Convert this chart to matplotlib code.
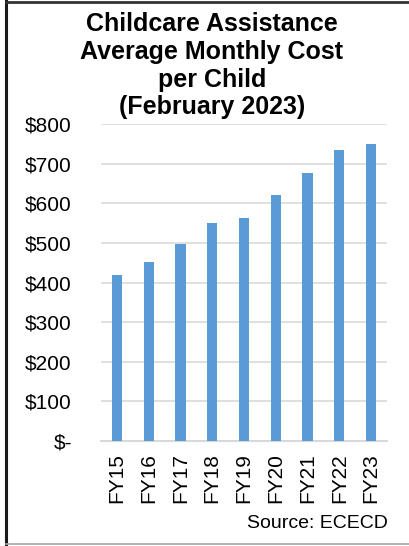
import matplotlib
matplotlib.use("Agg")
import matplotlib.pyplot as plt
from matplotlib.lines import Line2D

plt.rcParams["font.family"] = ["Liberation Sans", "DejaVu Sans"]

# data
years = ["FY15", "FY16", "FY17", "FY18", "FY19", "FY20", "FY21", "FY22", "FY23"]
avg_cost = [418, 452, 497, 549, 562, 621, 676, 734, 750]
y_ticks = [0, 100, 200, 300, 400, 500, 600, 700, 800]
y_labels = ["$-", "$100", "$200", "$300", "$400", "$500", "$600", "$700", "$800"]

W, H = 410, 546
fig = plt.figure(figsize=(W / 100, H / 100), dpi=100)
ax = fig.add_axes([101 / W, 1 - 441 / H, 286 / W, (441 - 124) / H])

x = range(len(years))
ax.bar(x, avg_cost, width=0.32, color="#5B9BD5", zorder=3)

ax.set_xlim(-0.5, len(years) - 0.5)
ax.set_ylim(0, 800)
ax.set_yticks(y_ticks)
ax.set_yticklabels(y_labels, fontsize=15)
ax.set_xticks(list(x))
ax.set_xticklabels(years, rotation=90, fontsize=15)
ax.tick_params(axis="both", length=0)
ax.tick_params(axis="y", pad=21)
ax.tick_params(axis="x", pad=9)

ax.grid(axis="y", color="#D9D9D9", linewidth=1.2, zorder=0)
for side in ["top", "right", "left"]:
    ax.spines[side].set_visible(False)
ax.spines["bottom"].set_color("#D9D9D9")
ax.spines["bottom"].set_linewidth(1.5)

fig.text(212 / W, 1 - 12 / H,
         "Childcare Assistance\nAverage Monthly Cost\nper Child\n(February 2023)",
         ha="center", va="top", fontsize=18, fontweight="bold",
         linespacing=1.2, multialignment="center")

fig.text(388 / W, 1 - 528 / H, "Source: ECECD", ha="right", va="baseline",
         fontsize=14)

# frame around the picture (right side is cut off in the original)
fig.add_artist(Line2D([6.5 / W, 6.5 / W], [0, 1], color="#1a1a1a", linewidth=2.2,
                      transform=fig.transFigure))
fig.add_artist(Line2D([6.5 / W, 1], [1 - 2 / H, 1 - 2 / H], color="#333333",
                      linewidth=2.0, transform=fig.transFigure))
fig.add_artist(Line2D([6.5 / W, 1], [1 - 544 / H, 1 - 544 / H], color="#A6A6A6",
                      linewidth=1.2, transform=fig.transFigure))

fig.savefig("out.png", dpi=100)
